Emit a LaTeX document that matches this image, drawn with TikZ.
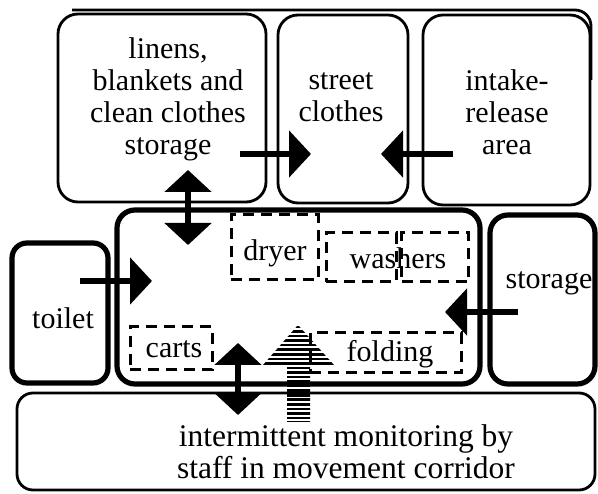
\documentclass[tikz,border=0pt]{standalone}
\usepackage{fontspec}
\setmainfont{Liberation Serif}
\usetikzlibrary{arrows.meta}
\begin{document}
\begin{tikzpicture}[x=1pt,y=-1pt,
  thinbox/.style={draw, line width=2.8pt, rounded corners=20pt, inner sep=0pt},
  thickbox/.style={draw, line width=5.2pt, rounded corners=16pt, inner sep=0pt},
  dbox/.style={draw, line width=3pt, dash pattern=on 11pt off 7pt, inner sep=0pt},
  lbl/.style={inner sep=0pt, align=center, font=\fontsize{30}{32}\selectfont},
  blbl/.style={inner sep=0pt, align=center, font=\fontsize{31.5}{32}\selectfont},
  bigarrow/.style={line width=6pt, -{Triangle[length=22pt,width=46pt]}},
  dblarrow/.style={line width=6pt, {Triangle[length=22pt,width=46pt]}-{Triangle[length=22pt,width=46pt]}},
]
\useasboundingbox (0,0) rectangle (598,494);

% outer frame line of the top row
\draw[line width=2.8pt, rounded corners=16pt] (72,10) -- (591,10) -- (591,80);

% top row boxes
\node[thinbox, minimum width=208pt, minimum height=188pt] (linens) at (162,108) {};
\node[thinbox, minimum width=130pt, minimum height=188pt] (street) at (343,109) {};
\node[thinbox, minimum width=167pt, minimum height=190pt] (intake) at (506.5,110) {};

% middle row
\node[thickbox, minimum width=96pt, minimum height=140pt, rounded corners=15pt] (toilet) at (60,313) {};
\node[thickbox, minimum width=363pt, minimum height=174pt, rounded corners=18pt] (room) at (298.5,297) {};
\node[thickbox, minimum width=105pt, minimum height=169pt, rounded corners=18pt] (storage) at (542.5,299.5) {};

% corridor
\node[thinbox, minimum width=578pt, minimum height=97pt, rounded corners=16pt] (corridor) at (306,441.5) {};

% dashed areas
\node[dbox, minimum width=87pt, minimum height=65pt] (dryer) at (274.5,247.5) {};
\node[dbox, minimum width=70pt, minimum height=49pt] (washA) at (361,257.5) {};
\node[dbox, minimum width=67pt, minimum height=49pt] (washB) at (435,257.5) {};
\node[dbox, minimum width=82pt, minimum height=43pt] (carts) at (171,348.5) {};
\node[dbox, minimum width=151pt, minimum height=40pt] (folding) at (385.5,353) {};

% labels
\node[lbl] (tlinens) at (168,99) {linens,\\blankets and\\clean clothes\\storage};
\node[lbl] (tstreet) at (341,97) {street\\clothes};
\node[lbl] (tintake) at (507,112) {intake-\\release\\area};
\node[lbl] (ttoilet) at (63,318) {toilet};
\node[lbl] (tstorage) at (549,283) {storage};
\node[lbl] (tdryer) at (275,253) {dryer};
\node[lbl] (twash) at (398,258) {washers};
\node[lbl] (tcarts) at (174,349) {carts};
\node[lbl] (tfold) at (390,354) {folding};
\node[blbl] (tcorr) at (346,452) {intermittent monitoring by\\staff in movement corridor};

% arrow end points
\coordinate (a1s) at (240,154); \coordinate (a1e) at (311,154);
\coordinate (a2s) at (453,154); \coordinate (a2e) at (381,154);
\coordinate (a3s) at (188,170); \coordinate (a3e) at (188,245);
\coordinate (a4s) at (80,281);  \coordinate (a4e) at (152,281);
\coordinate (a5s) at (518,312); \coordinate (a5e) at (445,312);
\coordinate (a6s) at (238,343); \coordinate (a6e) at (238,415);

\draw[bigarrow] (a1s) -- (a1e);
\draw[bigarrow] (a2s) -- (a2e);
\draw[dblarrow] (a3s) -- (a3e);
\draw[bigarrow] (a4s) -- (a4e);
\draw[bigarrow] (a5s) -- (a5e);
\draw[dblarrow] (a6s) -- (a6e);

% striped arrow (monitoring)
\begin{scope}
  \clip (298,325) -- (334,365) -- (310,365) -- (310,422) -- (287,422) -- (287,365) -- (263,365) -- cycle;
  \foreach \k in {0,...,21} {
    \draw[line width=2.6pt] (255,{327+4.55*\k}) -- (340,{327+4.55*\k});
  }
\end{scope}
\end{tikzpicture}
\end{document}
